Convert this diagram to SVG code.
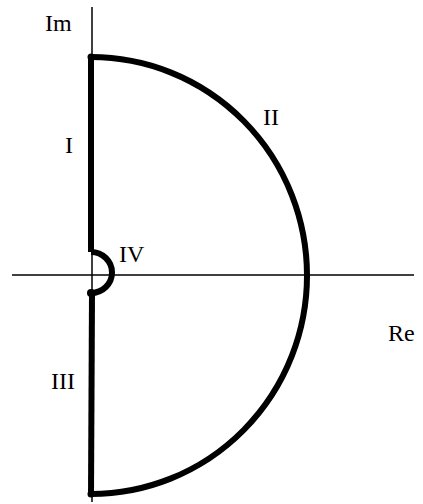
<svg xmlns="http://www.w3.org/2000/svg" width="423" height="504" viewBox="0 0 423 504">
<style>
.axis{stroke:#000;stroke-width:1.5;fill:none}
.path{stroke:#000;stroke-width:6;fill:none;stroke-linejoin:round}
.lbl{font-family:"Liberation Serif","Times New Roman",serif;font-size:24px;fill:#000}
</style>
<rect width="423" height="504" fill="#fff"/>
<g id="axes">
<line class="axis" x1="92" y1="7" x2="92" y2="502"/>
<line class="axis" x1="12" y1="275" x2="414" y2="275"/>
<text class="lbl" x="45" y="31">Im</text>
<text class="lbl" x="388" y="341">Re</text>
</g>
<g id="connectors">
<path id="seg-I" class="path" d="M91,57 L91,252"/>
<path id="seg-IV" class="path" d="M91,252 A21,20.5 0 0 1 91,293"/>
<path id="seg-III" class="path" d="M92,294 L91,494"/>
<path id="seg-II" class="path" d="M91,57 A216,218.5 0 0 1 91,494"/>
<circle cx="91" cy="57" r="3.5" fill="#000"/>
<circle cx="91" cy="293" r="4" fill="#000"/>
<circle cx="91" cy="494" r="3.5" fill="#000"/>
</g>
<g id="labels">
<text class="lbl" x="65" y="153">I</text>
<text class="lbl" x="263" y="125">II</text>
<text class="lbl" x="119" y="262">IV</text>
<text class="lbl" x="51" y="389">III</text>
</g>
</svg>
